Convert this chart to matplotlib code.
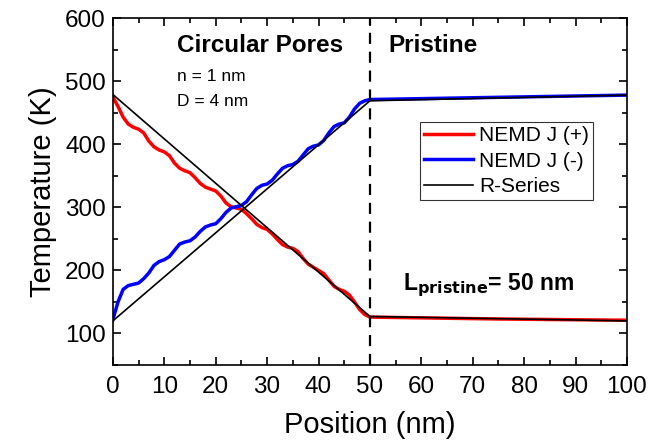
import numpy as np
import matplotlib.pyplot as plt

plt.rcParams['font.family'] = ['Liberation Sans', 'DejaVu Sans']

############################ Dados ############################

x_poros = list(range(0, 51))

t_mais = [475, 460, 443, 432, 427, 424, 418, 405, 396, 391,
          388, 382, 370, 362, 358, 355, 347, 338, 332, 329,
          326, 318, 307, 301, 299, 297, 290, 282, 273, 268,
          265, 258, 249, 241, 237, 235, 230, 219, 210, 205,
          200, 195, 185, 175, 170, 167, 161, 150, 138, 130, 126]

t_menos = [122, 150, 170, 176, 178, 180, 187, 196, 208, 214,
           217, 222, 232, 242, 245, 247, 253, 262, 269, 272,
           274, 282, 292, 299, 301, 303, 309, 320, 330, 335,
           337, 343, 353, 362, 366, 368, 373, 383, 393, 397,
           399, 406, 418, 428, 432, 434, 443, 456, 465, 469, 471]

x_pristine = [50, 75, 100]
t_mais_pristine = [125, 123, 121]
t_menos_pristine = [471, 474.5, 478]

x_rs = [0, 50, 100]
rs_mais = [479, 127, 120]
rs_menos = [120, 469, 478]

############################ Figura ############################

fig = plt.figure(figsize=(6.6, 4.43), dpi=100)
ax = fig.add_axes([0.171, 0.176, 0.779, 0.783])

ax.plot(x_poros + x_pristine[1:], t_mais + t_mais_pristine[1:], color='red', lw=2.5, label='NEMD J (+)')
ax.plot(x_poros + x_pristine[1:], t_menos + t_menos_pristine[1:], color='blue', lw=2.5, label='NEMD J (-)')
ax.plot(x_rs, rs_mais, color='black', lw=1.2, label='R-Series')
ax.plot(x_rs, rs_menos, color='black', lw=1.2)

ax.axvline(50, color='black', ls=(0, (5, 3.5)), lw=1.6)

ax.set_xlim(0, 100)
ax.set_ylim(50, 600)
ax.set_xticks(range(0, 101, 10))
ax.set_xticks(range(5, 100, 10), minor=True)
ax.set_yticks(range(100, 601, 100))
ax.set_yticks(range(50, 600, 100), minor=True)
ax.tick_params(which='both', direction='in', top=True, right=True, labelsize=17.5, width=1.2)
ax.tick_params(which='major', length=6)
ax.tick_params(which='minor', length=3.5)
ax.tick_params(axis='x', pad=8)
ax.tick_params(axis='y', pad=5)
for s in ax.spines.values():
    s.set_linewidth(1.2)

ax.set_xlabel('Position (nm)', fontsize=21, labelpad=9)
ax.set_ylabel('Temperature (K)', fontsize=21, labelpad=6)

ax.text(12.5, 556, 'Circular Pores', fontsize=17.5, fontweight='bold', va='center')
ax.text(53.5, 556, 'Pristine', fontsize=17.5, fontweight='bold', va='center')
ax.text(12.5, 508, 'n = 1 nm', fontsize=12.5, va='center')
ax.text(12.5, 468, 'D = 4 nm', fontsize=12.5, va='center')
ax.text(56.5, 176, r'L$_{\mathbf{pristine}}$= 50 nm', fontsize=16.5, fontweight='bold', va='center')

leg = ax.legend(loc='upper left', bbox_to_anchor=(0.597, 0.70), fontsize=15, frameon=True,
                fancybox=False, edgecolor='black', handlelength=2.35, borderpad=0.2,
                labelspacing=0.3, handletextpad=0.3, borderaxespad=0)
leg.get_frame().set_linewidth(0.8)

plt.savefig('out.png', dpi=100)
